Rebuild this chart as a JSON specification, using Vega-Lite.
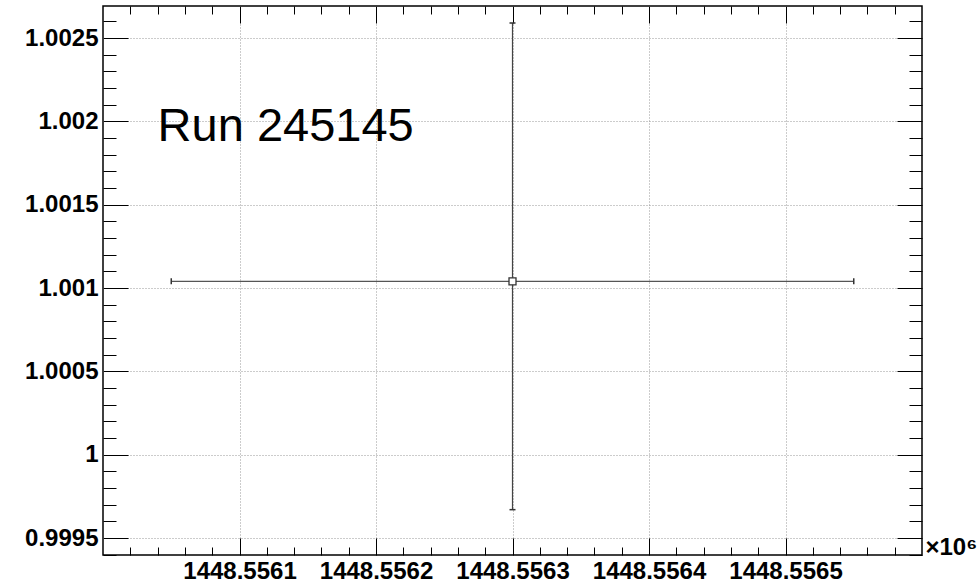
{
  "$schema": "https://vega.github.io/schema/vega-lite/v6.json",
  "width": 819,
  "height": 549,
  "autosize": {"type": "none"},
  "padding": {"left": 103, "top": 6, "right": 56, "bottom": 29},
  "background": "white",
  "config": {
    "view": {"stroke": "#000", "strokeWidth": 1.5},
    "axis": {
      "domain": false,
      "tickColor": "#000",
      "tickWidth": 1,
      "labelFont": "Liberation Sans",
      "labelFontWeight": "bold",
      "labelFontSize": 24,
      "labelColor": "#000",
      "titleFont": "Liberation Sans",
      "titleFontSize": 24,
      "titleFontWeight": "bold",
      "titleColor": "#000",
      "grid": false
    }
  },
  "datasets": {
    "pt": [
      {"x": 1448.5563, "xlo": 1448.55605, "xhi": 1448.55655, "y": 1.00104, "ylo": 0.99967, "yhi": 1.00259}
    ],
    "ann": [
      {"x": 1448.55604, "y": 1.00188, "label": "Run 245145"}
    ]
  },
  "resolve": {"axis": {"x": "independent", "y": "independent"}},
  "layer": [
    {
      "data": {"name": "pt"},
      "mark": {"type": "point", "opacity": 0},
      "encoding": {
        "x": {"field": "x", "type": "quantitative",
          "scale": {"domain": [1448.556, 1448.5566], "zero": false, "nice": false},
          "axis": {"orient": "bottom", "values": [1448.5561, 1448.5562, 1448.5563, 1448.5564, 1448.5565],
            "format": ".4f", "tickSize": -17, "labelPadding": 21, "labelFlush": false,
            "grid": true, "gridDash": [1, 2], "gridColor": "#999999", "gridWidth": 1,
            "title": "×10⁶", "titleFontSize": 24, "titleFontWeight": "bold", "titleColor": "#000",
            "titleX": 822, "titleY": -1, "titleAlign": "left", "titleBaseline": "alphabetic", "titleLimit": 200}},
        "y": {"field": "y", "type": "quantitative",
          "scale": {"domain": [0.999398, 1.002692], "zero": false, "nice": false},
          "axis": {"orient": "left", "values": [0.9995, 1, 1.0005, 1.001, 1.0015, 1.002, 1.0025],
            "format": "~r", "tickSize": -25, "labelPadding": 30, "labelFlush": false,
            "grid": true, "gridDash": [1, 2], "gridColor": "#999999", "gridWidth": 1, "title": null}}
      }
    },
    {
      "data": {"name": "pt"},
      "mark": {"type": "point", "opacity": 0},
      "encoding": {
        "x": {"field": "x", "type": "quantitative",
          "scale": {"domain": [1448.556, 1448.5566], "zero": false, "nice": false},
          "axis": {"orient": "bottom", "values": [1448.55602, 1448.55604, 1448.55606, 1448.55608, 1448.55612, 1448.55614, 1448.55616, 1448.55618, 1448.55622, 1448.55624, 1448.55626, 1448.55628, 1448.55632, 1448.55634, 1448.55636, 1448.55638, 1448.55642, 1448.55644, 1448.55646, 1448.55648, 1448.55652, 1448.55654, 1448.55656, 1448.55658],
            "tickSize": -8, "labels": false, "title": null}},
        "y": {"field": "y", "type": "quantitative",
          "scale": {"domain": [0.999398, 1.002692], "zero": false, "nice": false},
          "axis": {"orient": "left", "values": [0.9994, 0.9996, 0.9997, 0.9998, 0.9999, 1.0001, 1.0002, 1.0003, 1.0004, 1.0006, 1.0007, 1.0008, 1.0009, 1.0011, 1.0012, 1.0013, 1.0014, 1.0016, 1.0017, 1.0018, 1.0019, 1.0021, 1.0022, 1.0023, 1.0024, 1.0026],
            "tickSize": -13, "labels": false, "title": null}}
      }
    },
    {
      "data": {"name": "pt"},
      "mark": {"type": "point", "opacity": 0},
      "encoding": {
        "x": {"field": "x", "type": "quantitative",
          "scale": {"domain": [1448.556, 1448.5566], "zero": false, "nice": false},
          "axis": {"orient": "top", "values": [1448.5561, 1448.5562, 1448.5563, 1448.5564, 1448.5565],
            "tickSize": -17, "labels": false, "title": null}},
        "y": {"field": "y", "type": "quantitative",
          "scale": {"domain": [0.999398, 1.002692], "zero": false, "nice": false},
          "axis": {"orient": "right", "values": [0.9995, 1, 1.0005, 1.001, 1.0015, 1.002, 1.0025],
            "tickSize": -25, "labels": false, "title": null}}
      }
    },
    {
      "data": {"name": "pt"},
      "mark": {"type": "point", "opacity": 0},
      "encoding": {
        "x": {"field": "x", "type": "quantitative",
          "scale": {"domain": [1448.556, 1448.5566], "zero": false, "nice": false},
          "axis": {"orient": "top", "values": [1448.55602, 1448.55604, 1448.55606, 1448.55608, 1448.55612, 1448.55614, 1448.55616, 1448.55618, 1448.55622, 1448.55624, 1448.55626, 1448.55628, 1448.55632, 1448.55634, 1448.55636, 1448.55638, 1448.55642, 1448.55644, 1448.55646, 1448.55648, 1448.55652, 1448.55654, 1448.55656, 1448.55658],
            "tickSize": -8, "labels": false, "title": null}},
        "y": {"field": "y", "type": "quantitative",
          "scale": {"domain": [0.999398, 1.002692], "zero": false, "nice": false},
          "axis": {"orient": "right", "values": [0.9994, 0.9996, 0.9997, 0.9998, 0.9999, 1.0001, 1.0002, 1.0003, 1.0004, 1.0006, 1.0007, 1.0008, 1.0009, 1.0011, 1.0012, 1.0013, 1.0014, 1.0016, 1.0017, 1.0018, 1.0019, 1.0021, 1.0022, 1.0023, 1.0024, 1.0026],
            "tickSize": -13, "labels": false, "title": null}}
      }
    },
    {
      "data": {"name": "pt"},
      "mark": {"type": "rule", "color": "#444", "strokeWidth": 1.2},
      "encoding": {
        "x": {"field": "x", "type": "quantitative", "scale": {"domain": [1448.556, 1448.5566], "zero": false, "nice": false}, "axis": null},
        "y": {"field": "ylo", "type": "quantitative", "scale": {"domain": [0.999398, 1.002692], "zero": false, "nice": false}, "axis": null},
        "y2": {"field": "yhi"}
      }
    },
    {
      "data": {"name": "pt"},
      "mark": {"type": "rule", "color": "#555", "strokeWidth": 1.2},
      "encoding": {
        "y": {"field": "y", "type": "quantitative", "scale": {"domain": [0.999398, 1.002692], "zero": false, "nice": false}, "axis": null},
        "x": {"field": "xlo", "type": "quantitative", "scale": {"domain": [1448.556, 1448.5566], "zero": false, "nice": false}, "axis": null},
        "x2": {"field": "xhi"}
      }
    },
    {
      "data": {"name": "pt"},
      "mark": {"type": "tick", "orient": "horizontal", "size": 6, "thickness": 1.5, "color": "#333", "opacity": 1},
      "encoding": {
        "x": {"field": "x", "type": "quantitative", "scale": {"domain": [1448.556, 1448.5566], "zero": false, "nice": false}, "axis": null},
        "y": {"field": "ylo", "type": "quantitative", "scale": {"domain": [0.999398, 1.002692], "zero": false, "nice": false}, "axis": null}
      }
    },
    {
      "data": {"name": "pt"},
      "mark": {"type": "tick", "orient": "horizontal", "size": 6, "thickness": 1.5, "color": "#333", "opacity": 1},
      "encoding": {
        "x": {"field": "x", "type": "quantitative", "scale": {"domain": [1448.556, 1448.5566], "zero": false, "nice": false}, "axis": null},
        "y": {"field": "yhi", "type": "quantitative", "scale": {"domain": [0.999398, 1.002692], "zero": false, "nice": false}, "axis": null}
      }
    },
    {
      "data": {"name": "pt"},
      "mark": {"type": "tick", "orient": "vertical", "size": 6, "thickness": 1.5, "color": "#333", "opacity": 1},
      "encoding": {
        "x": {"field": "xlo", "type": "quantitative", "scale": {"domain": [1448.556, 1448.5566], "zero": false, "nice": false}, "axis": null},
        "y": {"field": "y", "type": "quantitative", "scale": {"domain": [0.999398, 1.002692], "zero": false, "nice": false}, "axis": null}
      }
    },
    {
      "data": {"name": "pt"},
      "mark": {"type": "tick", "orient": "vertical", "size": 6, "thickness": 1.5, "color": "#333", "opacity": 1},
      "encoding": {
        "x": {"field": "xhi", "type": "quantitative", "scale": {"domain": [1448.556, 1448.5566], "zero": false, "nice": false}, "axis": null},
        "y": {"field": "y", "type": "quantitative", "scale": {"domain": [0.999398, 1.002692], "zero": false, "nice": false}, "axis": null}
      }
    },
    {
      "data": {"name": "pt"},
      "mark": {"type": "point", "shape": "square", "size": 49, "filled": false, "fill": "white", "fillOpacity": 1, "stroke": "#333", "strokeWidth": 1.3, "opacity": 1},
      "encoding": {
        "x": {"field": "x", "type": "quantitative", "scale": {"domain": [1448.556, 1448.5566], "zero": false, "nice": false}, "axis": null},
        "y": {"field": "y", "type": "quantitative", "scale": {"domain": [0.999398, 1.002692], "zero": false, "nice": false}, "axis": null}
      }
    },
    {
      "data": {"name": "ann"},
      "mark": {"type": "text", "align": "left", "baseline": "alphabetic", "font": "Liberation Sans", "fontSize": 47, "color": "#000"},
      "encoding": {
        "x": {"field": "x", "type": "quantitative", "scale": {"domain": [1448.556, 1448.5566], "zero": false, "nice": false}, "axis": null},
        "y": {"field": "y", "type": "quantitative", "scale": {"domain": [0.999398, 1.002692], "zero": false, "nice": false}, "axis": null},
        "text": {"field": "label"}
      }
    }
  ]
}
